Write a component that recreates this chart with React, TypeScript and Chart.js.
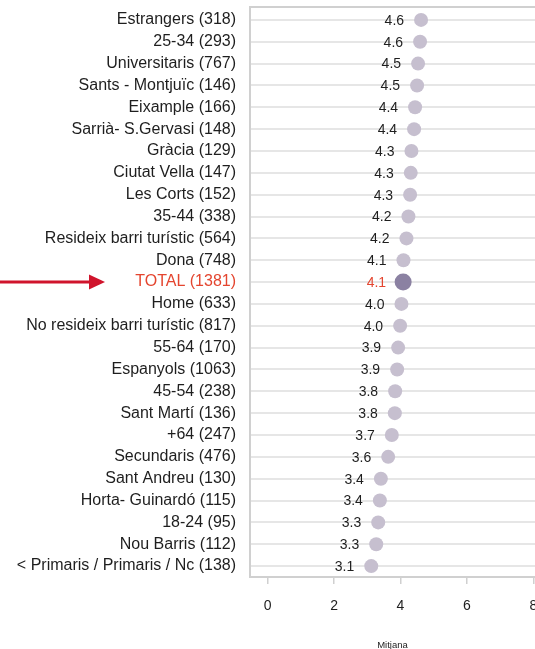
import { useEffect, useRef } from "react";
import { Chart, registerables } from "chart.js";

Chart.register(...registerables);

const categories = [
  "Estrangers (318)",
  "25-34 (293)",
  "Universitaris (767)",
  "Sants - Montjuïc (146)",
  "Eixample (166)",
  "Sarrià- S.Gervasi (148)",
  "Gràcia (129)",
  "Ciutat Vella (147)",
  "Les Corts (152)",
  "35-44 (338)",
  "Resideix barri turístic (564)",
  "Dona (748)",
  "TOTAL (1381)",
  "Home (633)",
  "No resideix barri turístic (817)",
  "55-64 (170)",
  "Espanyols (1063)",
  "45-54 (238)",
  "Sant Martí (136)",
  "+64 (247)",
  "Secundaris (476)",
  "Sant Andreu (130)",
  "Horta- Guinardó (115)",
  "18-24 (95)",
  "Nou Barris (112)",
  "< Primaris / Primaris / Nc (138)",
];

const means = [
  4.62, 4.59, 4.53, 4.5, 4.44, 4.41, 4.33, 4.31, 4.29, 4.24, 4.18, 4.09, 4.08,
  4.03, 3.99, 3.93, 3.9, 3.84, 3.83, 3.74, 3.63, 3.41, 3.38, 3.33, 3.27, 3.12,
];

const xTicks = [0, 2, 4, 6, 8];
const xTitle = "Mitjana";
const TOTAL_INDEX = categories.indexOf("TOTAL (1381)");

const FONT = "'Liberation Sans', Arial, sans-serif";
const DOT = "#c6bfcf";
const DOT_TOTAL = "#8b81a2";
const RED_TEXT = "#e4452f";
const ARROW = "#d0142c";
const TEXT = "#1e1e1e";

export default function App() {
  const ref = useRef<HTMLCanvasElement>(null);

  useEffect(() => {
    if (!ref.current) return;

    const framePlugin = {
      id: "frame",
      beforeDatasetsDraw(chart: any) {
        const { ctx, chartArea } = chart;
        ctx.save();
        ctx.strokeStyle = "#d0d0d0";
        ctx.lineWidth = 2;
        ctx.beginPath();
        ctx.moveTo(chartArea.left - 1, chartArea.top - 2);
        ctx.lineTo(chartArea.right, chartArea.top - 2);
        ctx.moveTo(chartArea.left, chartArea.top - 2);
        ctx.lineTo(chartArea.left, chartArea.top + 2);
        ctx.stroke();
        ctx.restore();
      },
    };

    const valueLabels = {
      id: "valueLabels",
      afterDatasetsDraw(chart: any) {
        const { ctx } = chart;
        const meta = chart.getDatasetMeta(0);
        ctx.save();
        ctx.font = `14px ${FONT}`;
        ctx.textAlign = "right";
        ctx.textBaseline = "middle";
        meta.data.forEach((pt: any, i: number) => {
          ctx.fillStyle = i === TOTAL_INDEX ? RED_TEXT : TEXT;
          ctx.fillText(means[i].toFixed(1), pt.x - 17, pt.y + 1);
        });
        ctx.restore();
      },
    };

    const arrowPlugin = {
      id: "arrow",
      afterDraw(chart: any) {
        const { ctx } = chart;
        const y = chart.scales.y.getPixelForValue(TOTAL_INDEX);
        ctx.save();
        ctx.strokeStyle = ARROW;
        ctx.fillStyle = ARROW;
        ctx.lineWidth = 3;
        ctx.beginPath();
        ctx.moveTo(0, y);
        ctx.lineTo(92, y);
        ctx.stroke();
        ctx.beginPath();
        ctx.moveTo(89, y - 7.5);
        ctx.lineTo(105, y);
        ctx.lineTo(89, y + 7.5);
        ctx.closePath();
        ctx.fill();
        ctx.restore();
      },
    };

    const chart = new Chart(ref.current, {
      type: "line",
      data: {
        labels: categories,
        datasets: [
          {
            data: means,
            showLine: false,
            clip: false,
            pointRadius: categories.map((_, i) => (i === TOTAL_INDEX ? 8.5 : 7)),
            pointHoverRadius: categories.map((_, i) => (i === TOTAL_INDEX ? 8.5 : 7)),
            pointBackgroundColor: categories.map((_, i) => (i === TOTAL_INDEX ? DOT_TOTAL : DOT)),
            pointBorderWidth: 0,
            pointBorderColor: "rgba(0,0,0,0)",
          },
        ],
      },
      options: {
        indexAxis: "y",
        responsive: false,
        animation: false,
        events: [],
        layout: { autoPadding: false, padding: { top: 9, right: 0, left: 0, bottom: 0 } },
        plugins: {
          legend: { display: false },
          tooltip: { enabled: false },
        },
        scales: {
          x: {
            type: "linear",
            position: "bottom",
            min: -0.53,
            max: 8.05,
            afterBuildTicks: (s: any) => {
              s.ticks = xTicks.map((v) => ({ value: v }));
            },
            afterFit: (s: any) => {
              s.paddingLeft = 0;
              s.paddingRight = 0;
              s.height = 72;
            },
            grid: {
              drawOnChartArea: false,
              drawTicks: true,
              tickLength: 7,
              color: "#d0d0d0",
              lineWidth: 1.5,
            },
            border: { display: true, color: "#d0d0d0", width: 2 },
            ticks: {
              padding: 14,
              autoSkip: false,
              maxRotation: 0,
              color: TEXT,
              font: { family: FONT, size: 14 },
            },
            title: {
              display: true,
              text: xTitle,
              color: TEXT,
              font: { family: FONT, size: 9.5 },
              padding: { top: 0, bottom: -2.5 },
            },
          },
          y: {
            type: "category",
            offset: true,
            afterFit: (s: any) => {
              s.width = 250;
              s.paddingTop = 0;
              s.paddingBottom = 0;
            },
            grid: {
              drawTicks: false,
              color: "#e6e6e6",
              lineWidth: 2,
              offset: false,
            },
            border: { display: true, color: "#d0d0d0", width: 2 },
            ticks: {
              padding: 14,
              autoSkip: false,
              font: { family: FONT, size: 16 },
              color: (ctx: any) => (ctx.index === TOTAL_INDEX ? RED_TEXT : TEXT),
            },
          },
        },
      } as any,
      plugins: [framePlugin, valueLabels, arrowPlugin],
    });

    return () => chart.destroy();
  }, []);

  return (
    <div style={{ position: "fixed", left: 0, top: 0, width: 535, height: 649, background: "#fff" }}>
      <canvas ref={ref} width={535} height={649} style={{ display: "block" }} />
    </div>
  );
}
